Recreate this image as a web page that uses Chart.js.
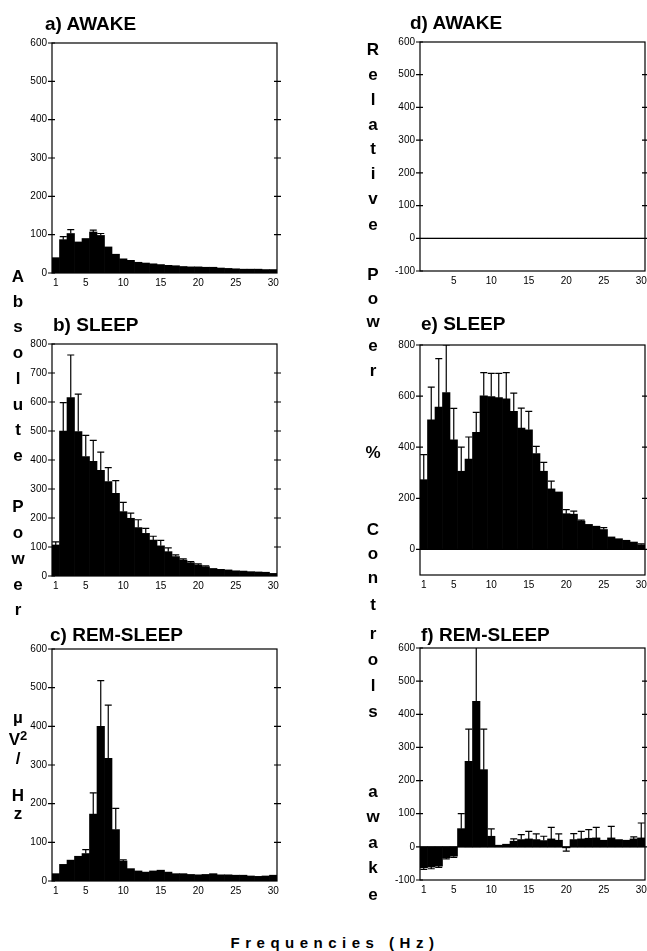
<!DOCTYPE html>
<html><head><meta charset="utf-8">
<script src="https://cdn.jsdelivr.net/npm/chart.js@4.4.1/dist/chart.umd.min.js"></script>
<style>
html,body{margin:0;padding:0;background:#fff;}
body{width:647px;height:951px;overflow:hidden;position:relative;font-family:"Liberation Sans",Arial,sans-serif;color:#000;}
canvas{position:absolute;}
.t{position:absolute;font-weight:bold;font-size:19px;line-height:19px;white-space:nowrap;z-index:2;}
.l{position:absolute;font-weight:bold;font-size:17px;line-height:17px;transform:translate(-50%,-50%);white-space:nowrap;z-index:2;}
.l sup{font-size:13px;vertical-align:5px;line-height:0;}
#xl{position:absolute;left:335px;top:942px;transform:translate(-50%,-50%);font-weight:bold;font-size:15px;letter-spacing:5.5px;white-space:nowrap;}
</style></head><body>
<canvas id="ca"></canvas><canvas id="cb"></canvas><canvas id="cc"></canvas>
<canvas id="cd"></canvas><canvas id="ce"></canvas><canvas id="cf"></canvas>

<div class="t" style="left:45px;top:14px">a) AWAKE</div>
<div class="t" style="left:53px;top:315px">b) SLEEP</div>
<div class="t" style="left:50px;top:625px">c) REM-SLEEP</div>
<div class="t" style="left:410px;top:13px">d) AWAKE</div>
<div class="t" style="left:421px;top:314px">e) SLEEP</div>
<div class="t" style="left:421px;top:625px">f) REM-SLEEP</div>

<div id="letters"></div>
<div id="xl">Frequencies (Hz)</div>

<script>
// ---------- data ----------
const freqHz = ['1','2','3','4','5','6','7','8','9','10','11','12','13','14','15','16','17','18','19','20','21','22','23','24','25','26','27','28','29','30'];
const xTicksShown = [1,5,10,15,20,25,30];
const xTicksShownD = [5,10,15,20,25,30];

const yTicksAbs600 = [0,100,200,300,400,500,600];
const yTicksAbs800 = [0,100,200,300,400,500,600,700,800];
const yTicksRel600 = [-100,0,100,200,300,400,500,600];
const yTicksRel800 = [0,200,400,600,800];

// a) absolute power, awake (µV²/Hz)
const absAwake    = [40,87,103,81,90,107,98,68,49,37,33,28,26,24,22,20,19,17,16,16,15,15,13,12,11,10,10,10,9,9];
const absAwakeErr = [null,95,113,null,null,112,103,null,null,null,null,null,null,null,null,null,null,null,null,null,null,null,null,null,null,null,null,null,null,null];
// b) absolute power, sleep
const absSleep    = [107,500,615,498,412,395,364,326,285,222,199,167,147,124,104,84,67,55,46,38,32,26,23,21,18,17,15,14,13,9];
const absSleepErr = [118,598,762,627,485,468,427,374,329,254,217,194,164,137,123,97,73,59,50,42,35,null,null,null,null,null,null,null,null,null];
// c) absolute power, REM sleep
const absRem      = [19,43,54,64,71,173,400,317,133,52,32,26,23,26,28,23,19,19,17,16,17,19,16,16,15,15,13,12,13,15];
const absRemErr   = [null,null,null,null,81,228,518,455,188,55,null,null,null,null,null,null,null,null,null,null,null,null,null,null,null,null,null,null,null,null];
// d) relative power, awake (% of controls awake)
const relAwake    = [0,0,0,0,0,0,0,0,0,0,0,0,0,0,0,0,0,0,0,0,0,0,0,0,0,0,0,0,0,0];
// e) relative power, sleep
const relSleep    = [273,507,557,614,429,306,354,458,601,598,594,589,540,475,468,375,306,237,225,140,138,111,98,91,78,49,42,36,29,18];
const relSleepErr = [371,635,747,800,552,400,440,536,692,689,689,692,612,553,540,403,341,267,null,156,150,115,null,null,85,null,null,null,null,22];
// f) relative power, REM sleep
const relRem      = [-63,-61,-58,-33,-28,55,258,439,233,32,5,8,17,22,24,22,19,24,20,-3,22,24,26,27,20,27,22,20,24,27];
const relRemErr   = [-68,-66,-62,-36,-32,100,355,650,355,54,null,null,24,37,47,39,32,59,39,-13,40,47,52,59,null,62,null,null,30,72];

// ---------- layout ----------
const boxes = {
  a:{l:52, r:277, t:43,  b:273},
  b:{l:52, r:277, t:344, b:576},
  c:{l:52, r:277, t:649, b:881},
  d:{l:420,r:645, t:42,  b:271},
  e:{l:420,r:645, t:345, b:575},
  f:{l:420,r:645, t:648, b:880}
};

const leftLetters = [['A',276],['b',301],['s',326],['o',352],['l',378],['u',404],['t',429],['e',455],
  ['P',506],['o',532],['w',558],['e',584],['r',609],['µ',717],['V<sup>2</sup>',739],['/',758],['H',795],['z',813]];
const rightLetters = [['R',49],['e',74],['l',99],['a',124],['t',148],['i',173],['v',198],['e',224],
  ['P',274],['o',298],['w',321],['e',345],['r',370],['%',452],['C',529],['o',553],['n',577],['t',604],
  ['r',633],['o',659],['l',685],['s',711],['a',791],['w',816],['a',842],['k',867],['e',894]];

const lc = document.getElementById('letters');
function addLetters(arr, x){
  arr.forEach(([ch,y])=>{
    const d=document.createElement('div'); d.className='l'; d.innerHTML=ch;
    d.style.left=x+'px'; d.style.top=y+'px'; lc.appendChild(d);
  });
}
addLetters(leftLetters, 18);
addLetters(rightLetters, 373);

Chart.defaults.font.family = '"Liberation Sans", Arial, sans-serif';
Chart.defaults.font.size = 10;
Chart.defaults.color = '#000';

const boxPlugin = {
  id:'boxTicks',
  afterDatasetsDraw(chart){
    const {ctx, chartArea:ca, scales:{y}} = chart;
    ctx.save();
    ctx.strokeStyle='#000'; ctx.lineWidth=1.2;
    ctx.strokeRect(ca.left, ca.top, ca.right-ca.left, ca.bottom-ca.top);
    ctx.beginPath();
    if (y.min < 0){
      const z = y.getPixelForValue(0);
      ctx.moveTo(ca.left, z); ctx.lineTo(ca.right, z);
    }
    y.ticks.forEach(t=>{
      const py = y.getPixelForValue(t.value);
      ctx.moveTo(ca.left-4, py); ctx.lineTo(ca.left+3, py);
      if (t.value !== y.min && t.value !== y.max){
        ctx.moveTo(ca.right-3, py); ctx.lineTo(ca.right+4, py);
      }
    });
    ctx.stroke();
    ctx.restore();
  }
};

const errPlugin = {
  id:'errBars',
  afterDatasetsDraw(chart){
    const ds = chart.data.datasets[0]; const errs = ds.errUpper; if(!errs) return;
    const {ctx, chartArea:ca, scales:{y}} = chart;
    const meta = chart.getDatasetMeta(0);
    ctx.save();
    ctx.beginPath(); ctx.rect(ca.left, ca.top, ca.right-ca.left, ca.bottom-ca.top); ctx.clip();
    ctx.strokeStyle='#000'; ctx.lineWidth=1.2;
    ctx.beginPath();
    meta.data.forEach((bar,i)=>{
      const e = errs[i]; if (e==null) return;
      const ye = y.getPixelForValue(e);
      ctx.moveTo(bar.x, bar.y); ctx.lineTo(bar.x, ye);
      ctx.moveTo(bar.x-3.5, ye); ctx.lineTo(bar.x+3.5, ye);
    });
    ctx.stroke();
    ctx.restore();
  }
};

function makePanel(id, box, values, errs, yMin, yMax, yTicks, xShown){
  const c = document.getElementById(id);
  const PADL=10, PADT=12, PADR=10, YW=40, XH=24;
  const w = box.r - box.l + PADL + YW + PADR;
  const h = box.b - box.t + PADT + XH;
  c.width=w; c.height=h;
  c.style.width=w+'px'; c.style.height=h+'px';
  c.style.left=(box.l-PADL-YW)+'px'; c.style.top=(box.t-PADT)+'px';
  new Chart(c, {
    type:'bar',
    data:{labels:freqHz, datasets:[{data:values, errUpper:errs, backgroundColor:'#000', borderWidth:0,
      barPercentage:1, categoryPercentage:1}]},
    options:{
      responsive:false, animation:false, devicePixelRatio:1,
      layout:{padding:{left:PADL, top:PADT, right:PADR, bottom:0}},
      plugins:{legend:{display:false}, tooltip:{enabled:false}, title:{display:false}},
      scales:{
        x:{type:'category', offset:true,
           grid:{display:false, drawTicks:false}, border:{display:false},
           ticks:{autoSkip:false, maxRotation:0, minRotation:0, padding:4,
             callback:(v,i)=> xShown.includes(Number(freqHz[i])) ? freqHz[i] : ''},
           afterFit:s=>{s.height=XH;}},
        y:{min:yMin, max:yMax,
           grid:{display:false, drawTicks:false}, border:{display:false},
           ticks:{padding:5},
           afterBuildTicks:s=>{s.ticks = yTicks.map(v=>({value:v}));},
           afterFit:s=>{s.width=YW;}}
      }
    },
    plugins:[errPlugin, boxPlugin]
  });
}

makePanel('ca', boxes.a, absAwake, absAwakeErr, 0, 600, yTicksAbs600, xTicksShown);
makePanel('cb', boxes.b, absSleep, absSleepErr, 0, 800, yTicksAbs800, xTicksShown);
makePanel('cc', boxes.c, absRem, absRemErr, 0, 600, yTicksAbs600, xTicksShown);
makePanel('cd', boxes.d, relAwake, null, -100, 600, yTicksRel600, xTicksShownD);
makePanel('ce', boxes.e, relSleep, relSleepErr, -100, 800, yTicksRel800, xTicksShown);
makePanel('cf', boxes.f, relRem, relRemErr, -100, 600, yTicksRel600, xTicksShown);
</script>
</body></html>
